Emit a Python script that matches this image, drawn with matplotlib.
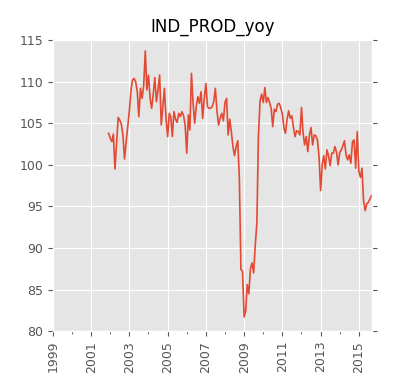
import matplotlib
matplotlib.use("Agg")
import matplotlib.pyplot as plt
import matplotlib.dates as mdates
import numpy as np
import pandas as pd

plt.style.use('ggplot')

# monthly values, Dec 2001 .. Sep 2015
start = "2001-12-01"
ind_prod_yoy = [
    103.8, 103.2, 102.8, 103.7, 99.5, 102.6, 105.7, 105.4, 104.9, 103.5,
    100.7, 102.8, 104.6, 106.5, 109.0, 110.2, 110.4, 110.0, 108.8, 105.8,
    109.2, 108.0, 109.5, 113.7, 109.0, 110.8, 108.0, 106.8, 108.5, 110.5,
    107.6, 109.0, 110.8, 104.8, 107.0, 109.2, 105.5, 103.4, 106.2, 105.8,
    103.4, 106.4, 105.5, 105.1, 106.2, 105.8, 106.4, 105.9, 104.8, 101.4,
    106.0, 104.2, 111.0, 107.5, 105.0, 107.0, 108.2, 107.4, 108.8, 105.6,
    108.0, 109.8, 107.0, 106.8, 106.8, 107.0, 107.6, 109.2, 106.5, 104.8,
    105.6, 106.2, 105.3, 107.5, 108.0, 103.6, 105.5, 104.0, 102.2, 101.1,
    102.2, 102.9, 98.5, 87.4, 87.2, 81.7, 82.5, 85.6, 84.5, 87.5,
    88.2, 87.0, 90.3, 93.0, 103.5, 107.7, 108.5, 107.5, 109.3, 107.5,
    108.1, 107.5, 106.8, 104.6, 106.7, 106.4, 107.3, 107.4, 106.9, 106.1,
    104.4, 103.8, 105.5, 106.5, 105.6, 105.9, 104.5, 103.4, 104.1, 104.0,
    103.6, 106.9, 103.8, 102.4, 103.4, 101.6, 103.6, 104.5, 102.4, 103.6,
    103.5, 103.0, 101.0, 96.9, 100.1, 101.1, 99.5, 101.8, 101.1, 99.9,
    101.4, 101.4, 102.2, 101.5, 100.0, 101.5, 101.8, 102.3, 102.9, 101.2,
    100.6, 101.2, 100.2, 102.8, 103.0, 99.6, 104.0, 99.2, 98.5, 99.6,
    95.7, 94.5, 95.3, 95.5, 95.9, 96.3,
]
major_years = [1999, 2001, 2003, 2005, 2007, 2009, 2011, 2013, 2015]
minor_years = [2000, 2002, 2004, 2006, 2008, 2010, 2012, 2014]

dates = pd.date_range(start, periods=len(ind_prod_yoy), freq="MS")

fig = plt.figure(figsize=(4.13, 3.9), dpi=100)
ax = fig.add_axes([0.128, 0.151, 0.773, 0.746])
ax.plot(dates, ind_prod_yoy, color='#E24A33', lw=1.2)

ax.set_xlim(pd.Timestamp("1999-01-01"), dates[-1] + pd.Timedelta(days=10))
ax.set_ylim(80, 115)
ax.set_title("IND_PROD_yoy", fontsize=12, color='black')

ax.set_xticks([pd.Timestamp(f"{y}-01-01") for y in major_years])
ax.set_xticklabels([str(y) for y in major_years], rotation=90)
ax.set_xticks([pd.Timestamp(f"{y}-01-01") for y in minor_years], minor=True)
ax.tick_params(axis='both', labelsize=9, colors='#555555')
ax.tick_params(axis='y', right=True)
ax.tick_params(which='minor', length=2)
ax.grid(which='minor', visible=False)

fig.savefig("out.png", dpi=100)
